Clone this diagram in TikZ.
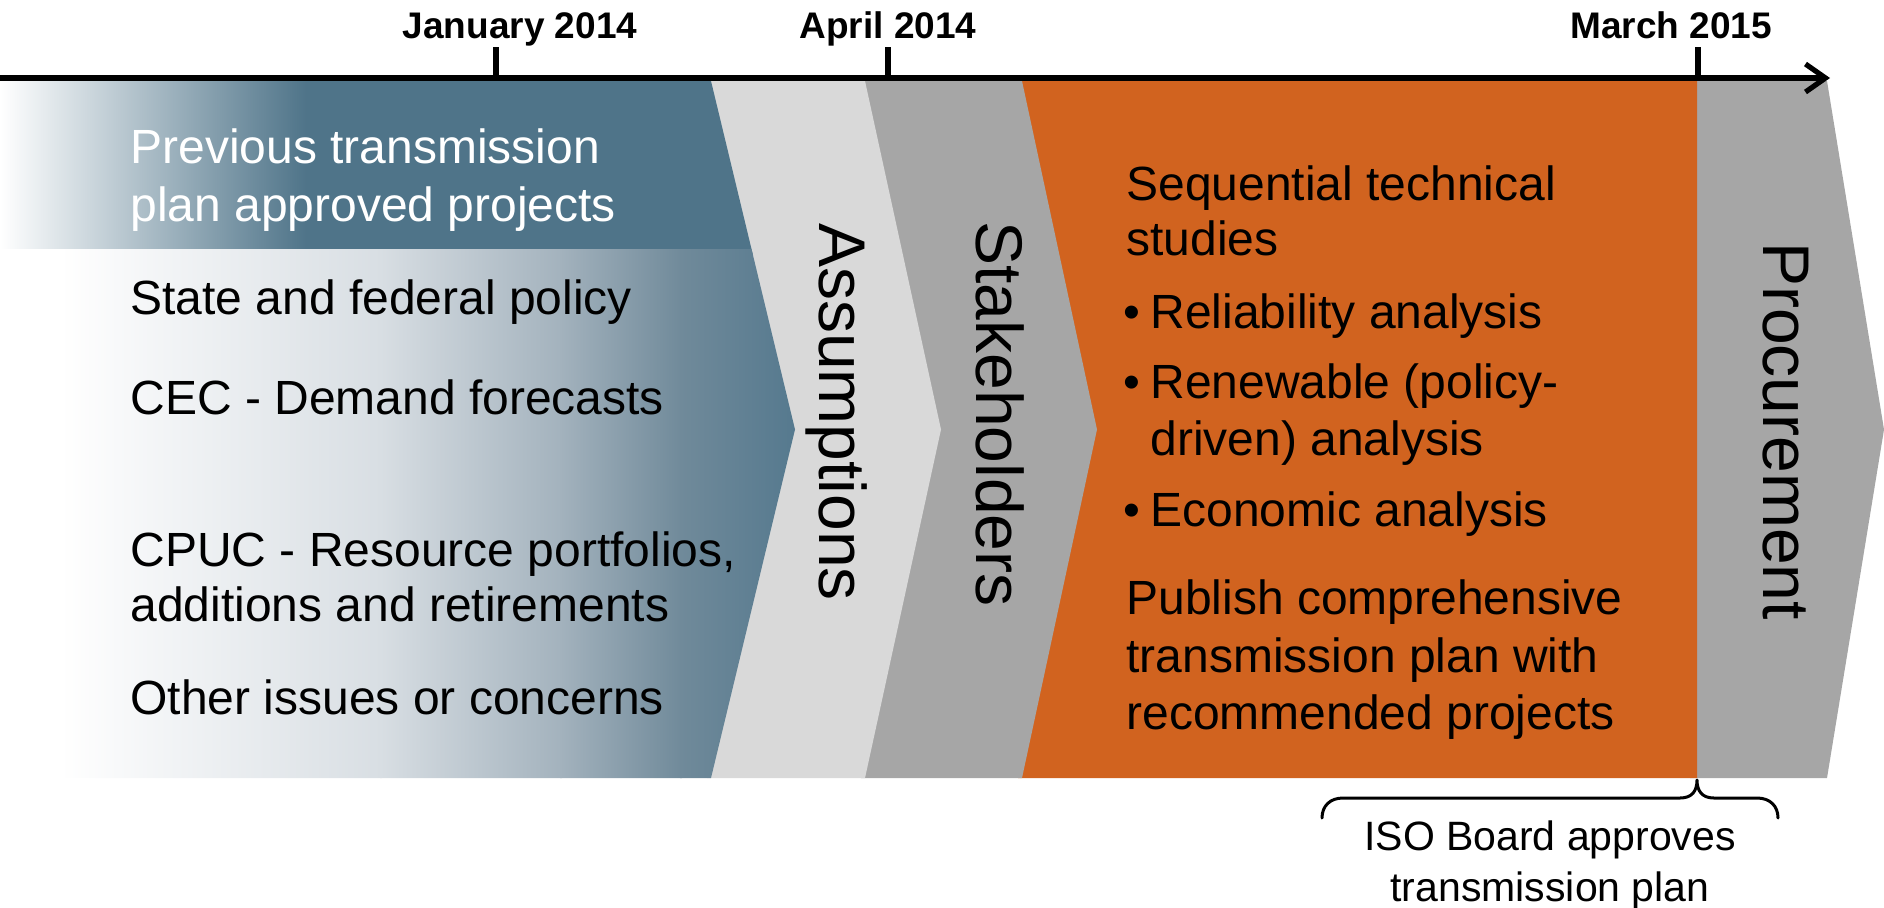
\documentclass[tikz,border=0pt]{standalone}
\usepackage{fontspec}
\setmainfont{Liberation Sans}
\usetikzlibrary{arrows.meta}

\definecolor{steel}{RGB}{79,116,137}
\definecolor{fadeA}{RGB}{216,222,227}
\definecolor{fadeB}{RGB}{163,178,189}
\definecolor{fadeC}{RGB}{112,138,154}
\definecolor{fadeD}{RGB}{82,119,141}
\definecolor{lightgrey}{RGB}{217,217,217}
\definecolor{midgrey}{RGB}{166,166,166}
\definecolor{burnt}{RGB}{209,99,31}

\tikzset{
  axisline/.style={line width=3pt, -{Straight Barb[length=10pt,width=14pt,line width=2.6pt]}},
  tickmark/.style={line width=3.3pt},
  datelabel/.style={font=\fontsize{18.5pt}{22pt}\selectfont\bfseries, inner sep=0pt, anchor=base},
  bodyline/.style={font=\fontsize{24pt}{29pt}\selectfont, inner sep=0pt, anchor=base west},
  whiteline/.style={bodyline, text=white},
  bulletmark/.style={font=\fontsize{24pt}{29pt}\selectfont, inner sep=0pt, anchor=base},
  phaselabel/.style={font=\fontsize{33pt}{40pt}\selectfont, inner sep=0pt, anchor=base, rotate=-90},
  notetext/.style={font=\fontsize{20.5pt}{26pt}\selectfont, inner sep=0pt, anchor=base},
  brace/.style={line width=1.5pt, line cap=round, line join=round},
}

\begin{document}
\begin{tikzpicture}[x=0.5pt,y=-0.5pt]
\useasboundingbox (0,0) rectangle (1884,907);

% ---- phase band (drawn right to left so each edge overlaps its neighbour) ----
% Procurement
\fill[midgrey] (1690,81) -- (1827,81) -- (1884,429.5) -- (1827,778) -- (1690,778) -- cycle;
% technical studies
\fill[burnt] (1018,81) -- (1697,81) -- (1697,778) -- (1018,778) -- (1093,429.5) -- cycle;
% Stakeholders
\fill[midgrey] (861,81) -- (1022,81) -- (1097,429.5) -- (1022,778) -- (861,778) -- (937,429.5) -- cycle;
% Assumptions
\fill[lightgrey] (707,81) -- (865,81) -- (941,429.5) -- (865,778) -- (707,778) -- (791,429.5) -- cycle;
% inputs arrow with its fading fill
\begin{scope}
  \clip (0,81) -- (711,81) -- (795,429.5) -- (711,778) -- (0,778) -- cycle;
  % upper strip: solid steel with a short fade at the left
  \fill[steel] (0,81) rectangle (810,254);
  \shade[left color=white, right color=steel] (0,81) rectangle (306,254);
  % lower part: fades in from the left edge
  \fill[white] (0,249) rectangle (62,778);
  \shade[left color=white, right color=fadeA] (60,249) rectangle (382,778);
  \shade[left color=fadeA, right color=fadeB] (380,249) rectangle (562,778);
  \shade[left color=fadeB, right color=fadeC] (560,249) rectangle (682,778);
  \shade[left color=fadeC, right color=fadeD] (680,249) rectangle (810,778);
\end{scope}

% ---- timeline ----
\coordinate (axisStart) at (0,78);
\coordinate (axisEnd) at (1830,78);
\draw[axisline] (axisStart) -- (axisEnd);

\coordinate (janTop) at (496,47);  \coordinate (janFoot) at (496,78);
\coordinate (aprTop) at (888,47);  \coordinate (aprFoot) at (888,78);
\coordinate (marTop) at (1698,47); \coordinate (marFoot) at (1698,78);
\draw[tickmark] (janTop) -- (janFoot);
\draw[tickmark] (aprTop) -- (aprFoot);
\draw[tickmark] (marTop) -- (marFoot);

\node[datelabel] (jan) at (520,38) {January 2014};
\node[datelabel] (apr) at (888,38) {April 2014};
\node[datelabel] (mar) at (1671,38) {March 2015};

% ---- inputs ----
\node[whiteline] (prev1) at (130,163) {Previous transmission};
\node[whiteline] (prev2) at (130,221) {plan approved projects};
\node[bodyline] (policy) at (130,314) {State and federal policy};
\node[bodyline] (cec) at (130,414) {CEC - Demand forecasts};
\node[bodyline] (cpuc1) at (130,566) {CPUC - Resource portfolios,};
\node[bodyline] (cpuc2) at (130,621) {additions and retirements};
\node[bodyline] (other) at (130,714) {Other issues or concerns};

% ---- phase titles ----
\node[phaselabel] (assump) at (819,412) {Assumptions};
\node[phaselabel] (stake) at (976,414) {Stakeholders};
\node[phaselabel] (procure) at (1763,431) {Procurement};

% ---- technical studies ----
\node[bodyline] (seq1) at (1126,200) {Sequential technical};
\node[bodyline] (seq2) at (1126,255) {studies};
\node[bulletmark] (b1) at (1132,328) {•};
\node[bodyline] (rel) at (1150,328) {Reliability analysis};
\node[bulletmark] (b2) at (1132,398) {•};
\node[bodyline] (ren1) at (1150,398) {Renewable (policy-};
\node[bodyline] (ren2) at (1150,455) {driven) analysis};
\node[bulletmark] (b3) at (1132,526) {•};
\node[bodyline] (eco) at (1150,526) {Economic analysis};
\node[bodyline] (pub1) at (1126,614) {Publish comprehensive};
\node[bodyline] (pub2) at (1126,672) {transmission plan with};
\node[bodyline] (pub3) at (1126,729) {recommended projects};

% ---- board approval brace ----
\coordinate (braceL) at (1322,818);
\coordinate (braceR) at (1778,818);
\coordinate (braceTip) at (1697,780);
\draw[brace] (braceL) .. controls (1322,806) and (1330,798) .. (1343,798)
  -- (1680,798) .. controls (1692,798) and (1697,791) .. (braceTip)
  .. controls (1697,791) and (1702,798) .. (1714,798)
  -- (1757,798) .. controls (1770,798) and (1778,806) .. (braceR);
\node[notetext] (iso1) at (1550,850) {ISO Board approves};
\node[notetext] (iso2) at (1550,901) {transmission plan};
\end{tikzpicture}
\end{document}
